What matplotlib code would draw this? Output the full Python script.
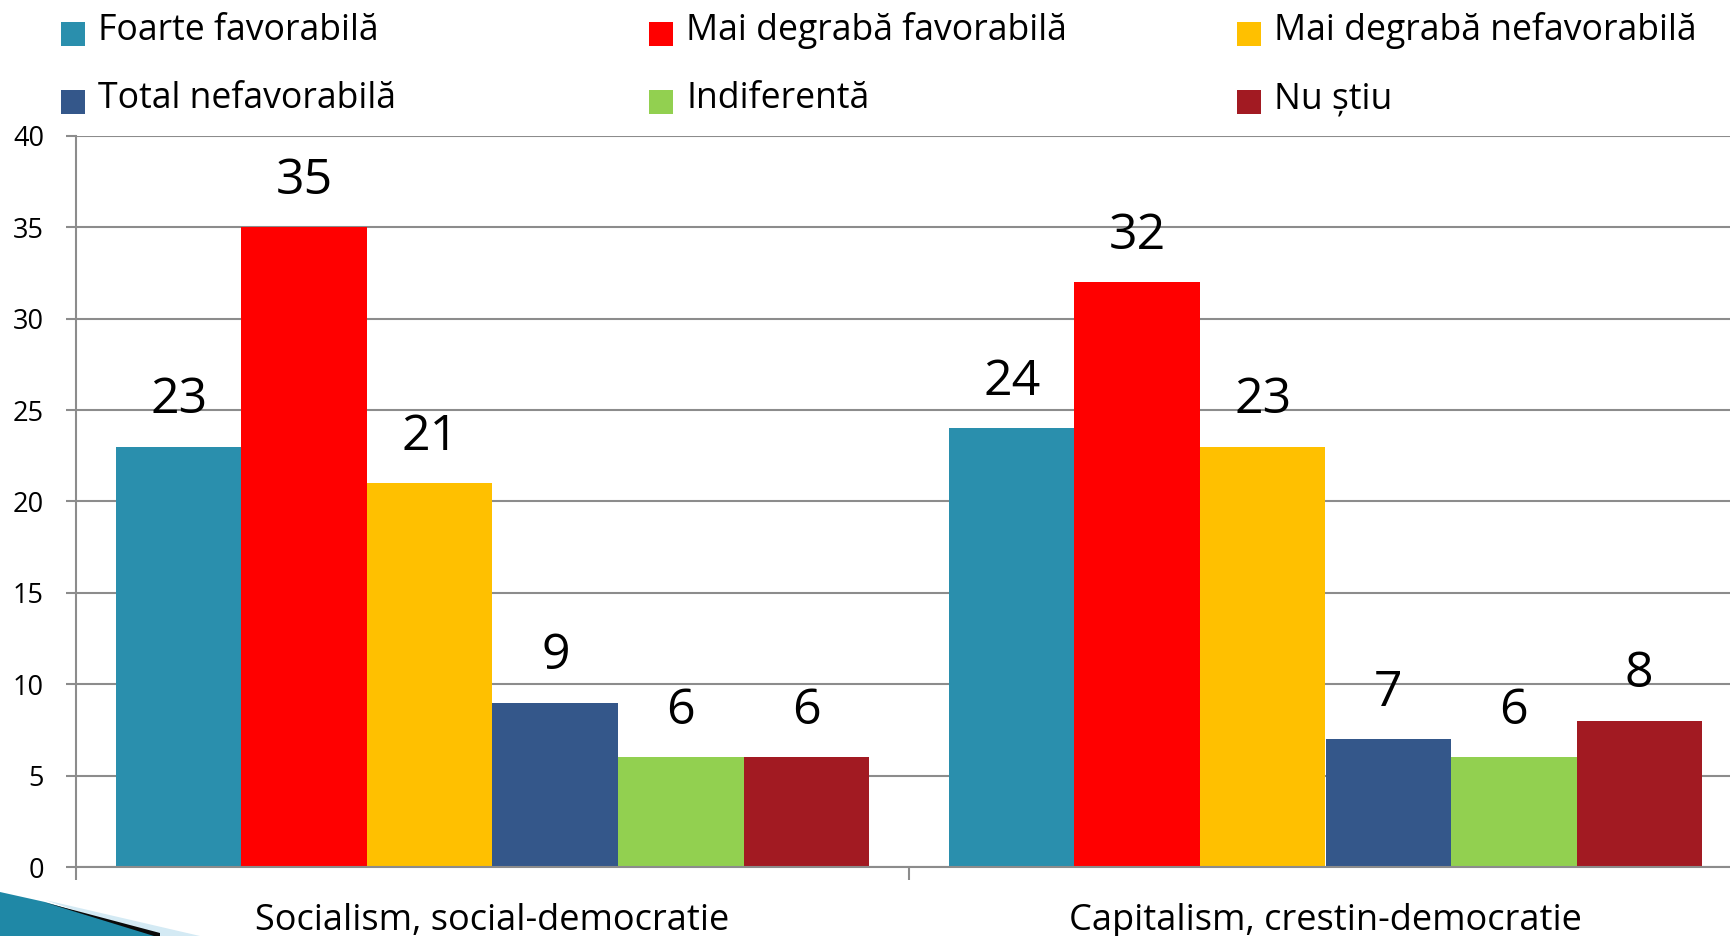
import numpy as np
import matplotlib
matplotlib.use("Agg")
import matplotlib.pyplot as plt
from matplotlib.patches import Rectangle, Polygon

# data
categories = ["Socialism, social-democratie", "Capitalism, crestin-democratie"]
series_names = ["Foarte favorabilă", "Mai degrabă favorabilă", "Mai degrabă nefavorabilă",
                "Total nefavorabilă", "Indiferentă", "Nu știu"]
series_colors = ["#2A8FAD", "#FF0000", "#FFC000", "#34578A", "#92D050", "#A21A22"]
values = [
    [23, 24],
    [35, 32],
    [21, 23],
    [9, 7],
    [6, 6],
    [6, 8],
]
y_ticks = [0, 5, 10, 15, 20, 25, 30, 35, 40]

plt.rcParams['font.family'] = ['Open Sans', 'DejaVu Sans']

W, H = 1731, 936
fig = plt.figure(figsize=(W / 100, H / 100), dpi=100)
ax = fig.add_axes([76 / W, 69 / H, 1666 / W, 731 / H])

grey = "#8C8C8C"
x = np.arange(len(categories))
group_w = 0.904
bar_w = group_w / len(series_names)

for i, (name, col, vals) in enumerate(zip(series_names, series_colors, values)):
    pos = x - group_w / 2 + bar_w * (i + 0.5)
    ax.bar(pos, vals, width=bar_w, color=col, edgecolor="none", zorder=3)
    for px, v in zip(pos, vals):
        ax.annotate(str(v), (px, v), xytext=(0, 24), textcoords="offset points",
                    ha="center", va="baseline", fontsize=36, color="black", zorder=4)

ax.set_xlim(-0.5, len(categories) - 0.5)
ax.set_ylim(0, 40)
ax.set_yticks(y_ticks)
ax.yaxis.grid(True, color=grey, linewidth=1.5, zorder=0)
ax.tick_params(axis="y", length=7, width=1.5, color=grey, labelsize=19.5, pad=16)

# category boundaries as major ticks, names as minor ticks
ax.set_xticks(np.arange(len(categories) + 1) - 0.5)
ax.set_xticklabels([])
ax.tick_params(axis="x", which="major", length=9.5, width=1.5, color=grey)
ax.set_xticks(x, minor=True)
ax.set_xticklabels(categories, minor=True)
ax.tick_params(axis="x", which="minor", length=0, labelsize=26, pad=26)

for s in ["top", "right"]:
    ax.spines[s].set_visible(False)
for s in ["left", "bottom"]:
    ax.spines[s].set_color(grey)
    ax.spines[s].set_linewidth(1.5)
ax.spines["bottom"].set_zorder(5)

# legend drawn by hand: 3 columns, 2 rows
col_x = [61, 649, 1237]
row_base = [40, 108]
for i, (name, col) in enumerate(zip(series_names, series_colors)):
    cx = col_x[i % 3]
    by = row_base[i // 3]
    fig.add_artist(Rectangle((cx / W, 1 - (by + 6) / H), 24 / W, 24 / H,
                             transform=fig.transFigure, color=col, lw=0))
    fig.text((cx + 37) / W, 1 - by / H, name, fontsize=25.7, va="baseline", ha="left")

# slide decoration in the bottom-left corner
def to_fig(pts):
    return [(a / W, 1 - b / H) for a, b in pts]

deco_light = [(45, 900), (200, 936), (150, 936)]
deco_teal = [(0, 892), (45, 902), (158, 936), (0, 936)]
deco_dark = [(45, 902.5), (160, 933), (160, 936), (154, 936)]
fig.add_artist(Polygon(to_fig(deco_light), closed=True, transform=fig.transFigure,
                       color="#D4EAF4", lw=0))
fig.add_artist(Polygon(to_fig(deco_teal), closed=True, transform=fig.transFigure,
                       color="#1F88A6", lw=0))
fig.add_artist(Polygon(to_fig(deco_dark), closed=True, transform=fig.transFigure,
                       color="#0A0A0A", lw=0))

fig.savefig("out.png", dpi=100)
